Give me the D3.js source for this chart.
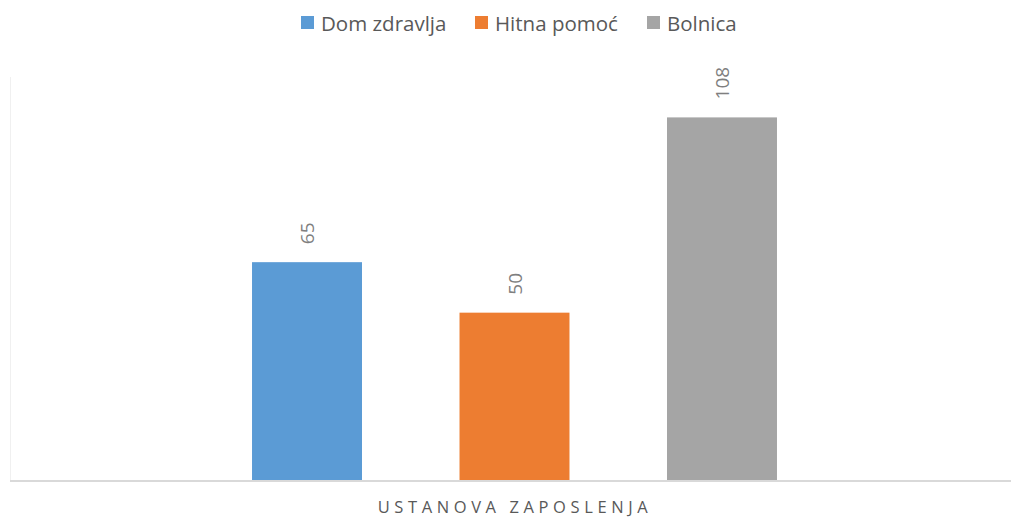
<!DOCTYPE html>
<html>
<head>
<meta charset="utf-8">
<script src="https://cdn.jsdelivr.net/npm/d3@7"></script>
<style>
  body { margin: 0; background: #fff; }
  text { font-family: "Open Sans", "Noto Sans", sans-serif; }
</style>
</head>
<body>
<div class="canvas"></div>
<script>
// data
const categories = ['USTANOVA ZAPOSLENJA'];
const seriesNames = ['Dom zdravlja', 'Hitna pomoć', 'Bolnica'];
const seriesValues = [65, 50, 108];
const colors = ['#5b9bd5', '#ed7d31', '#a5a5a5'];

const width = 1011, height = 518;
const svg = d3.select('.canvas')
    .append('svg')
    .attr('width', width)
    .attr('height', height);

// plot area
const plot = { left: 10, right: 1019, top: 77, bottom: 481 };

// scales
const y = d3.scaleLinear()
    .domain([0, 120])
    .range([plot.bottom, plot.top]);

const x0 = d3.scaleBand()
    .domain(categories)
    .range([plot.left, plot.right]);

const x1 = d3.scaleBand()
    .domain(seriesNames)
    .range([x0(categories[0]) + 144.5, x0(categories[0]) + x0.bandwidth() - 144.5])
    .paddingInner(0.47)
    .paddingOuter(0.47);

// faint left edge line
svg.append('line')
    .attr('x1', plot.left + 0.5).attr('x2', plot.left + 0.5)
    .attr('y1', plot.top).attr('y2', plot.bottom)
    .attr('stroke', '#f0f0f0');

const data = seriesNames.map((name, i) => ({ name, value: seriesValues[i], color: colors[i] }));

// bars
svg.selectAll('rect.bar')
    .data(data)
    .enter()
    .append('rect')
    .attr('class', 'bar')
    .attr('x', d => x1(d.name))
    .attr('width', x1.bandwidth())
    .attr('y', d => y(d.value))
    .attr('height', d => y(0) - y(d.value))
    .attr('fill', d => d.color);

// value labels (rotated)
svg.selectAll('text.val')
    .data(data)
    .enter()
    .append('text')
    .attr('class', 'val')
    .attr('transform', d => `translate(${x1(d.name) + x1.bandwidth() / 2 + 7}, ${y(d.value) - 18}) rotate(-90)`)
    .attr('text-anchor', 'start')
    .attr('font-size', 19)
    .attr('fill', '#7f7f7f')
    .text(d => d.value);

// x axis
const xAxis = d3.axisBottom(x0).tickSize(0).tickFormat('');
const xAxisGroup = svg.append('g')
    .attr('transform', `translate(0, ${plot.bottom})`)
    .call(xAxis);
xAxisGroup.select('.domain')
    .attr('d', `M${plot.left},0H${width}`)
    .attr('stroke', '#d9d9d9')
    .attr('stroke-width', 2);

svg.append('text')
    .attr('x', 515)
    .attr('y', 512.5)
    .attr('text-anchor', 'middle')
    .attr('font-size', 16.5)
    .attr('letter-spacing', 4.6)
    .attr('fill', '#595959')
    .text(categories[0]);

// legend
const legendX = [301, 475, 647];
const legend = svg.selectAll('g.legend')
    .data(data)
    .enter()
    .append('g')
    .attr('class', 'legend')
    .attr('transform', (d, i) => `translate(${legendX[i]}, 16)`);

legend.append('rect')
    .attr('width', 13)
    .attr('height', 13)
    .attr('fill', d => d.color);

legend.append('text')
    .attr('x', 20)
    .attr('y', 15)
    .attr('font-size', 20.5)
    .attr('fill', '#595959')
    .text(d => d.name);
</script>
</body>
</html>
